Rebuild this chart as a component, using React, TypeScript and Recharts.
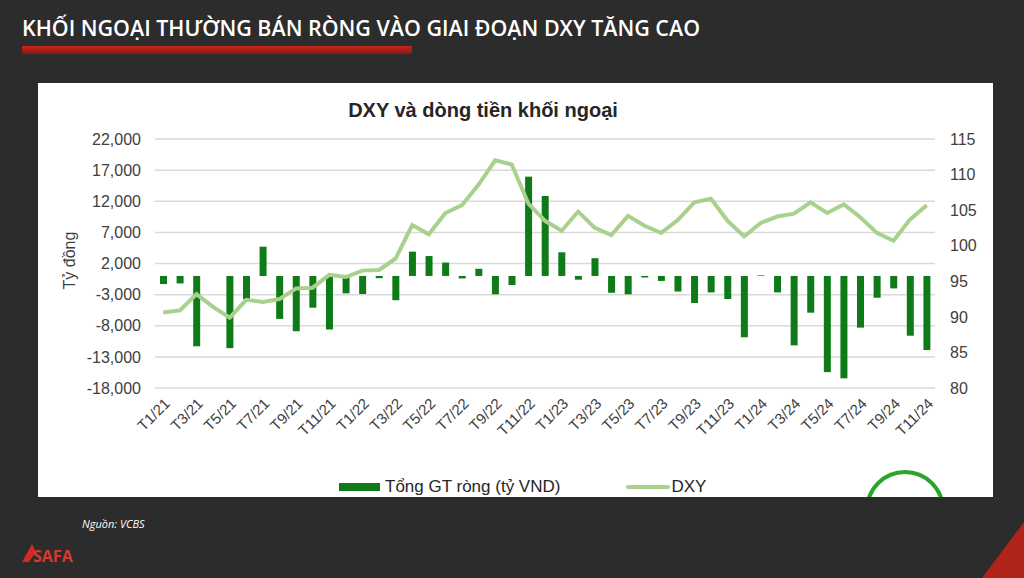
import { ComposedChart, Bar, Line, XAxis, YAxis, CartesianGrid, Legend } from 'recharts';

const months = [
  'T1/21', 'T2/21', 'T3/21', 'T4/21', 'T5/21', 'T6/21', 'T7/21', 'T8/21', 'T9/21', 'T10/21', 'T11/21', 'T12/21',
  'T1/22', 'T2/22', 'T3/22', 'T4/22', 'T5/22', 'T6/22', 'T7/22', 'T8/22', 'T9/22', 'T10/22', 'T11/22', 'T12/22',
  'T1/23', 'T2/23', 'T3/23', 'T4/23', 'T5/23', 'T6/23', 'T7/23', 'T8/23', 'T9/23', 'T10/23', 'T11/23', 'T12/23',
  'T1/24', 'T2/24', 'T3/24', 'T4/24', 'T5/24', 'T6/24', 'T7/24', 'T8/24', 'T9/24', 'T10/24', 'T11/24',
];

// Tổng GT ròng (tỷ VND)
const netFlow = [
  -1300, -1200, -11300, 0, -11600, -3700, 4700, -6900, -8900, -5100, -8600, -2800,
  -2900, -350, -3900, 3900, 3200, 2150, -400, 1150, -2950, -1450, 15950, 12850,
  3800, -600, 2850, -2700, -2950, -250, -800, -2500, -4350, -2650, -3700, -9850,
  100, -2650, -11150, -5900, -15450, -16450, -8300, -3500, -2000, -9600, -11900,
];

const dxy = [
  90.6, 90.9, 93.2, 91.4, 89.9, 92.4, 92.1, 92.5, 94.0, 94.1, 95.9, 95.6,
  96.5, 96.6, 98.2, 102.9, 101.6, 104.6, 105.7, 108.6, 112.0, 111.4, 105.9, 103.5,
  102.1, 104.8, 102.5, 101.5, 104.2, 102.8, 101.8, 103.6, 106.1, 106.6, 103.5, 101.3,
  103.2, 104.1, 104.5, 106.1, 104.6, 105.8, 104.0, 101.8, 100.7, 103.7, 105.7,
];

const leftTicks = [-18000, -13000, -8000, -3000, 2000, 7000, 12000, 17000, 22000];
const rightTicks = [80, 85, 90, 95, 100, 105, 110, 115];

const data = months.map((m, i) => ({ month: m, flow: netFlow[i], dxy: dxy[i] }));

const FONT = '"Liberation Sans", Arial, sans-serif';
const BAR = '#0f7b18';
const LINE = '#a9d18e';

function LegendContent({ payload }: any) {
  // bars first, like the original
  const items = [...(payload || [])].sort((a: any, b: any) => (a.type === 'line' ? 1 : 0) - (b.type === 'line' ? 1 : 0));
  return (
    <div style={{ display: 'flex', alignItems: 'center', fontFamily: FONT, fontSize: 17, color: '#262626' }}>
      {items.map((p: any, i: number) => (
        <div key={i} style={{ display: 'flex', alignItems: 'center', marginRight: 66 }}>
          {p.type === 'line' ? (
            <div style={{ width: 44, height: 4, background: LINE, borderRadius: 2, marginRight: 1 }} />
          ) : (
            <div style={{ width: 41, height: 8, background: BAR, marginRight: 5 }} />
          )}
          <span>{p.value}</span>
        </div>
      ))}
    </div>
  );
}

function YLabel({ viewBox }: any) {
  const x = viewBox.x;
  const y = viewBox.y + viewBox.height / 2 - 3;
  return (
    <text x={x} y={y} transform={`rotate(-90, ${x}, ${y})`} textAnchor="middle" fontFamily={FONT} fontSize={16} fill="#404040">
      Tỷ đồng
    </text>
  );
}

export default function App() {
  return (
    <div style={{ position: 'fixed', left: 0, top: 0, width: 1024, height: 578, background: '#2c2c2c', overflow: 'hidden' }}>
      <svg width={1024} height={578} style={{ position: 'absolute', left: 0, top: 0 }}>
        <defs>
          <linearGradient id="redbar" x1="0" y1="0" x2="0" y2="1">
            <stop offset="0%" stopColor="#c4281f" />
            <stop offset="100%" stopColor="#8e1510" />
          </linearGradient>
        </defs>
        <text x={22} y={36} fontFamily='"Open Sans", sans-serif' fontWeight={600} fontSize={21} fill="#ffffff" textLength={678} lengthAdjust="spacingAndGlyphs">
          KHỐI NGOẠI THƯỜNG BÁN RÒNG VÀO GIAI ĐOẠN DXY TĂNG CAO
        </text>
        <rect x={22} y={46} width={390} height={8} fill="url(#redbar)" />
        <text x={82} y={528} fontFamily='"Open Sans", sans-serif' fontStyle="italic" fontSize={11} fill="#ffffff">
          Nguồn: VCBS
        </text>
        <path d="M22 562 L32 544 L36 552 L29 562 Z" fill="#d02a22" />
        <text x={33} y={562} fontFamily='"Open Sans", sans-serif' fontWeight={700} fontSize={16} fill="#d63a30">
          SAFA
        </text>
        <polygon points="1024,522 1024,578 982,578" fill="#b0241c" />
      </svg>

      <div style={{ position: 'absolute', left: 38, top: 83, width: 955, height: 414, background: '#ffffff', overflow: 'hidden' }}>
        <div style={{ position: 'absolute', left: 0, top: 16, width: 890, textAlign: 'center', fontFamily: FONT, fontWeight: 700, fontSize: 20, color: '#262626' }}>
          DXY và dòng tiền khối ngoại
        </div>
        <ComposedChart width={955} height={414} data={data} margin={{ top: 56, right: 13, bottom: 29, left: 37 }}>
          <CartesianGrid yAxisId="left" vertical={false} stroke="#d9d9d9" strokeWidth={1.5} />
          <XAxis
            dataKey="month"
            interval={1}
            axisLine={false}
            tickLine={false}
            tickSize={0}
            tickMargin={9}
            height={60}
            angle={-45}
            textAnchor="end"
            tick={{ fontFamily: FONT, fontSize: 15, fill: '#404040' }}
          />
          <YAxis
            yAxisId="left"
            domain={[-18000, 22000]}
            ticks={leftTicks}
            allowDataOverflow
            axisLine={false}
            tickLine={false}
            tickSize={0}
            tickMargin={14}
            width={80}
            tickFormatter={(v: number) => v.toLocaleString('en-US')}
            tick={{ fontFamily: FONT, fontSize: 16, fill: '#404040' }}
            label={YLabel}
          />
          <YAxis
            yAxisId="right"
            orientation="right"
            domain={[80, 115]}
            ticks={rightTicks}
            allowDataOverflow
            axisLine={false}
            tickLine={false}
            tickSize={0}
            tickMargin={15}
            width={45}
            tick={{ fontFamily: FONT, fontSize: 16, fill: '#404040', textAnchor: 'start' }}
          />
          <Legend
            verticalAlign="bottom"
            content={LegendContent}
            wrapperStyle={{ left: 301, bottom: 0, width: 'auto' }}
          />
          <Bar yAxisId="left" dataKey="flow" name="Tổng GT ròng (tỷ VND)" fill={BAR} barSize={7} legendType="rect" isAnimationActive={false} />
          <Line yAxisId="right" dataKey="dxy" name="DXY" type="linear" stroke={LINE} strokeWidth={4} dot={false} legendType="line" isAnimationActive={false} />
        </ComposedChart>
        <svg width={955} height={414} style={{ position: 'absolute', left: 0, top: 0, pointerEvents: 'none' }}>
          <circle cx={867} cy={427} r={38} fill="none" stroke="#2aa52a" strokeWidth={4} />
        </svg>
      </div>
    </div>
  );
}
